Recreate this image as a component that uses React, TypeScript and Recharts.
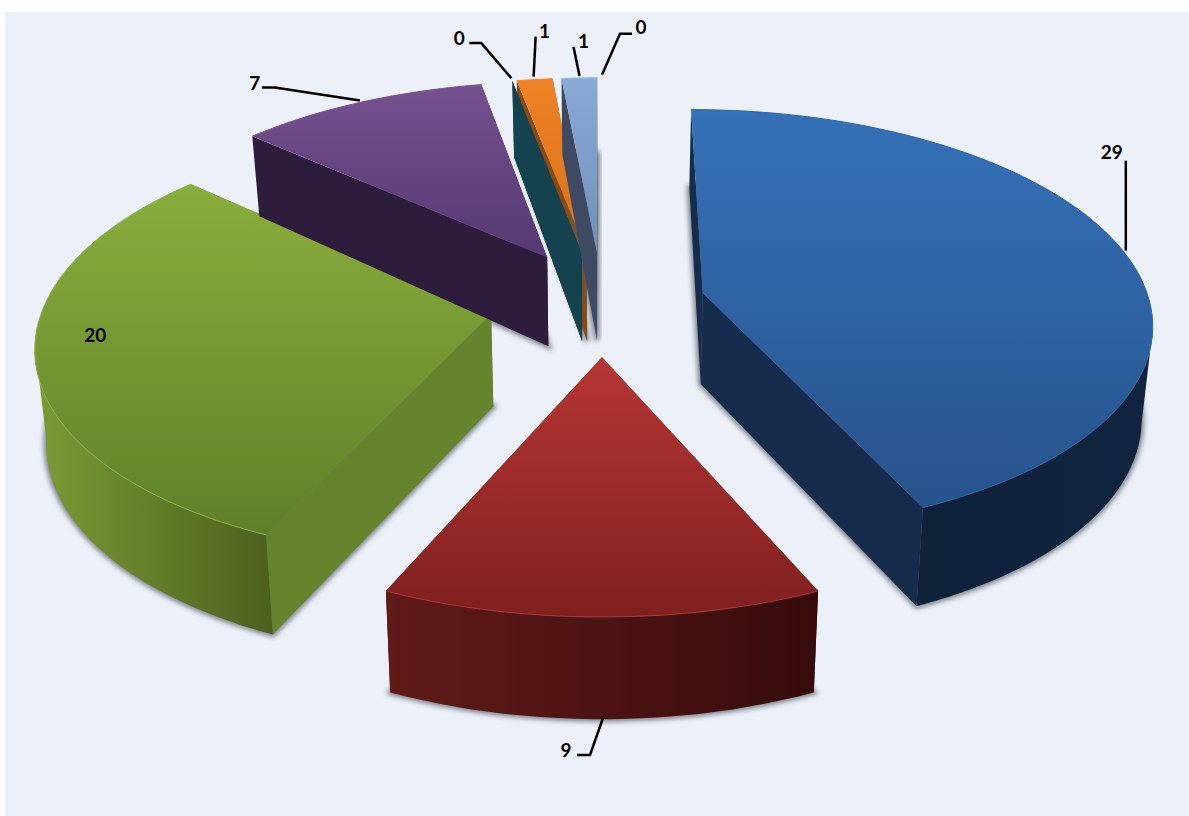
import { PieChart, Pie } from "recharts"

const sliceIds = ["s1", "s2", "s3", "s4", "s5", "s6", "s7", "s8"]
const sliceValues = [29, 9, 20, 7, 0, 1, 1, 0]

const chartData = sliceIds.map((id, i) => ({ id, value: sliceValues[i] }))

// top gradient start, top gradient end, side wall, outer wall left, outer wall right, rim
const PALETTE: Record<string, string[]> = {
  s1: ["#3571b8", "#26538c", "#162c4c", "#0f2139", "#11243f", "#2f639f"],
  s2: ["#b63635", "#7f201f", "#4c1413", "#611b19", "#370b0b", "#a83836"],
  s3: ["#8aae3d", "#5f8029", "#66832d", "#7c9b36", "#4c601e", "#8fb048"],
  s4: ["#75518f", "#553971", "#2d1c3b", "#2d1c3b", "#2d1c3b", "#75518f"],
  s5: ["#15424f", "#15424f", "#15424f", "#15424f", "#15424f", "#15424f"],
  s6: ["#ee8225", "#d9711d", "#8a4a12", "#8a4a12", "#8a4a12", "#ee8225"],
  s7: ["#8ba9d7", "#7090bb", "#3d4a62", "#3d4a62", "#3d4a62", "#a3bbdf"],
  s8: ["#3d4a62", "#3d4a62", "#3d4a62", "#3d4a62", "#3d4a62", "#3d4a62"],
}

// each point has its own explosion, as in the spreadsheet it came from
const EXPLODE: Record<string, number> = {
  s1: 0.232, s2: 0.25, s3: 0.252, s4: 0.256, s5: 0.25, s6: 0.25, s7: 0.25, s8: 0.25,
}

// leader points and text centre, relative to the rim point at the slice's mid angle
const LEADERS: Record<string, { line: number[][]; text: number[] }> = {
  s1: { line: [[3, 0], [3, -90]], text: [-11, -99] },
  s2: { line: [[1, 101], [-12, 138], [-25, 138]], text: [-36, 133] },
  s3: { line: [], text: [60, -26] },
  s4: { line: [[0, -2], [-85, -15], [-98, -15]], text: [-105, -20] },
  s5: { line: [[-1, -3], [-31, -38], [-43, -38]], text: [-53, -44] },
  s6: { line: [[-1, -3], [1, -43]], text: [10, -49] },
  s7: { line: [[0, -2], [-6, -31]], text: [4, -37] },
  s8: { line: [[0, -3], [18, -44], [30, -44]], text: [39, -51] },
}

// this wall sits behind its zero-sized neighbour
const WALL_FIRST = ["s6"]

const PERSPECTIVE = 0.1315
const DEPTH_SCALE = 209.9
const BOTTOM_SHRINK = 0.98

const clock = (angle: number) => 90 - angle

function thickness(w: number) {
  return 92 + (w - 1) * (w < 1 ? 115 : 52)
}

function project(cx: number, cy: number, radius: number, x: number, y: number, bottom = false) {
  const w = 1 / (1 - y * PERSPECTIVE)
  const sx = cx + radius * x * w * (bottom ? BOTTOM_SHRINK : 1)
  const sy = cy + DEPTH_SCALE * y * w + (bottom ? thickness(w) : 0)
  return [sx, sy]
}

const toPath = (pts: number[][]) =>
  "M" + pts.map((p) => `${p[0].toFixed(1)},${p[1].toFixed(1)}`).join("L") + "Z"

function geometry(props: any) {
  const { cx, cy, outerRadius, startAngle, endAngle, midAngle, payload } = props
  const id = payload.id
  const a0 = clock(startAngle)
  const a1 = clock(endAngle)
  const mid = (clock(midAngle) * Math.PI) / 180
  const ox = Math.sin(mid) * EXPLODE[id]
  const oy = -Math.cos(mid) * EXPLODE[id]
  const rimAt = (deg: number, bottom = false) => {
    const r = (deg * Math.PI) / 180
    return project(cx, cy, outerRadius, ox + Math.sin(r), oy - Math.cos(r), bottom)
  }
  const steps = Math.max(1, Math.ceil((a1 - a0) / 2))
  const degs = Array.from({ length: steps + 1 }, (_, i) => a0 + ((a1 - a0) * i) / steps)
  return {
    id,
    a0,
    a1,
    degs,
    rimAt,
    tipTop: project(cx, cy, outerRadius, ox, oy),
    tipBottom: project(cx, cy, outerRadius, ox, oy, true),
  }
}

function SideWalls({ g }: { g: ReturnType<typeof geometry> }) {
  const fill = PALETTE[g.id][2]
  return (
    <>
      <path d={toPath([g.tipTop, g.rimAt(g.a1), g.rimAt(g.a1, true), g.tipBottom])} fill={fill} />
      <path d={toPath([g.tipTop, g.rimAt(g.a0), g.rimAt(g.a0, true), g.tipBottom])} fill={fill} />
    </>
  )
}

// first pass: soft shadows on the panel and the walls that must stay behind others
function SliceUnder(props: any) {
  const g = geometry(props)
  return (
    <g>
      {props.value > 0 && (
        <path
          d={toPath([g.tipBottom, ...g.degs.map((d) => g.rimAt(d, true))])}
          fill="#5a5f66"
          stroke="#5a5f66"
          strokeWidth={5}
          filter="url(#sliceShadow)"
          opacity={0.75}
        />
      )}
      {WALL_FIRST.includes(g.id) && <SideWalls g={g} />}
    </g>
  )
}

function SliceOver(props: any) {
  const g = geometry(props)
  const topRim = g.degs.map((d) => g.rimAt(d))
  // only the part of the rim turned towards the viewer has a visible wall
  const frontDegs = g.degs.filter((d) => d >= 98 && d <= 262)
  return (
    <g>
      {!WALL_FIRST.includes(g.id) && <SideWalls g={g} />}
      {frontDegs.length > 1 && (
        <path
          d={toPath([
            ...frontDegs.map((d) => g.rimAt(d)),
            ...frontDegs.map((d) => g.rimAt(d, true)).reverse(),
          ])}
          fill={`url(#wall-${g.id})`}
        />
      )}
      <path d={toPath([g.tipTop, ...topRim])} fill={`url(#top-${g.id})`} />
      <path
        d={"M" + topRim.map((p) => `${p[0].toFixed(1)},${p[1].toFixed(1)}`).join("L")}
        fill="none"
        stroke={PALETTE[g.id][5]}
        strokeWidth={1}
      />
    </g>
  )
}

function SliceLabel(props: any) {
  const { cx, cy, outerRadius, midAngle, value, payload } = props
  const leader = LEADERS[payload.id]
  const mid = (clock(midAngle) * Math.PI) / 180
  const reach = 1 + EXPLODE[payload.id]
  const [rx, ry] = project(cx, cy, outerRadius, Math.sin(mid) * reach, -Math.cos(mid) * reach)
  return (
    <g>
      {leader.line.length > 0 && (
        <polyline
          points={leader.line.map((p) => `${rx + p[0]},${ry + p[1]}`).join(" ")}
          fill="none"
          stroke="#000"
          strokeWidth={2.5}
        />
      )}
      <text
        x={rx + leader.text[0]}
        y={ry + leader.text[1]}
        textAnchor="middle"
        dominantBaseline="central"
        fontFamily="Lato, sans-serif"
        fontWeight={700}
        fontSize={19}
        fill="#000"
      >
        {value}
      </text>
    </g>
  )
}

const pieGeometry = {
  cx: 602,
  cy: 303,
  innerRadius: 0,
  outerRadius: 447,
  startAngle: 90,
  endAngle: -270,
}

export default function App() {
  return (
    <div style={{ position: "absolute", left: 0, top: 0, width: 1189, height: 816, background: "#fff" }}>
      <div style={{ position: "absolute", left: 5, top: 12, width: 1184, height: 804, background: "#ecf1f9" }} />
      <div style={{ position: "absolute", left: 0, top: 0 }}>
        <PieChart width={1189} height={816} margin={{ top: 0, right: 0, bottom: 0, left: 0 }}>
          <defs>
            <filter id="sliceShadow" x="-10%" y="-10%" width="120%" height="120%">
              <feGaussianBlur stdDeviation="2.5" />
            </filter>
            {sliceIds.map((id) => (
              <linearGradient key={`top-${id}`} id={`top-${id}`} x1="0" y1="0" x2="0" y2="1">
                <stop offset="0%" stopColor={PALETTE[id][0]} />
                <stop offset="100%" stopColor={PALETTE[id][1]} />
              </linearGradient>
            ))}
            {sliceIds.map((id) => (
              <linearGradient key={`wall-${id}`} id={`wall-${id}`} x1="0" y1="0" x2="1" y2="0">
                <stop offset="0%" stopColor={PALETTE[id][3]} />
                <stop offset="100%" stopColor={PALETTE[id][4]} />
              </linearGradient>
            ))}
          </defs>
          <Pie
            {...pieGeometry}
            data={chartData}
            dataKey="value"
            nameKey="id"
            stroke="none"
            shape={SliceUnder}
            isAnimationActive={false}
          />
          <Pie
            {...pieGeometry}
            data={chartData}
            dataKey="value"
            nameKey="id"
            stroke="none"
            shape={SliceOver}
            label={SliceLabel}
            labelLine={false}
            isAnimationActive={false}
          />
        </PieChart>
      </div>
    </div>
  )
}
